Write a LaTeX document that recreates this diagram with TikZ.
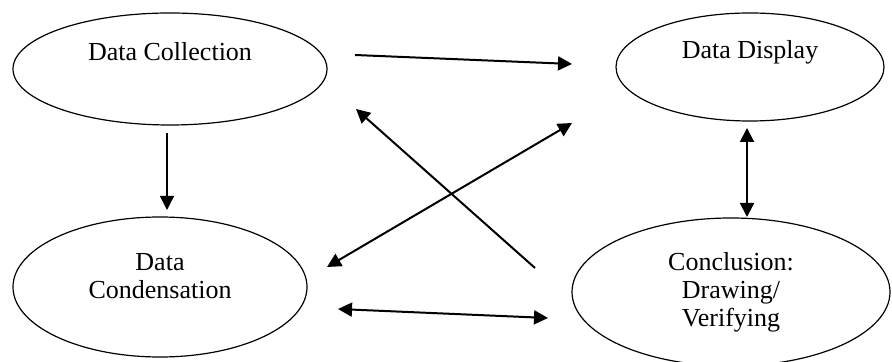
\documentclass[tikz,border=0pt]{standalone}
\usepackage{fontspec}
\setmainfont{Liberation Serif}
\usetikzlibrary{shapes.geometric, arrows.meta, positioning, calc}

\tikzset{
  stage/.style={draw, ellipse, line width=0.6pt, inner sep=0pt, align=center,
    font=\fontsize{13}{14}\selectfont},
  flow/.style={-{Triangle[length=7pt, width=7pt]}, line width=1pt},
  twoway/.style={{Triangle[length=7pt, width=7pt]}-{Triangle[length=7pt, width=7pt]}, line width=1pt}
}

\begin{document}
\begin{tikzpicture}[x=0.5pt, y=-0.5pt]
  \useasboundingbox (0,0) rectangle (892,362);

  % the four stages
  \node[stage, minimum width=157pt, minimum height=56pt] (collect) at (170,69) {\strut Data Collection\\\strut};
  \node[stage, minimum width=134pt, minimum height=54pt] (display) at (750,67) {\strut Data Display\\\strut};
  \node[stage, minimum width=147pt, minimum height=70pt] (condense) at (160,287) {Data\\Condensation\\[-7pt]\strut};
  \node[stage, minimum width=159pt, minimum height=74pt] (conclude) at (731,292) {Conclusion:\\Drawing/\\Verifying};

  % free ends of the arrows
  \coordinate (collect-out) at (355,55);
  \coordinate (display-in) at (572,64);
  \coordinate (collect-down) at (167,133);
  \coordinate (condense-top) at (167,210);
  \coordinate (display-down) at (747,128);
  \coordinate (conclude-top) at (747,217);
  \coordinate (display-sw) at (572,123);
  \coordinate (condense-ne) at (327,267);
  \coordinate (conclude-nw) at (535,268);
  \coordinate (collect-se) at (356,109);
  \coordinate (condense-east) at (338,309);
  \coordinate (conclude-west) at (548,318);

  \draw[flow] (collect-out) -- (display-in);
  \draw[flow, line width=0.7pt] (collect-down) -- (condense-top);
  \draw[twoway] (display-down) -- (conclude-top);
  \draw[twoway] (display-sw) -- (condense-ne);
  \draw[flow] (conclude-nw) -- (collect-se);
  \draw[twoway] (condense-east) -- (conclude-west);
\end{tikzpicture}
\end{document}
